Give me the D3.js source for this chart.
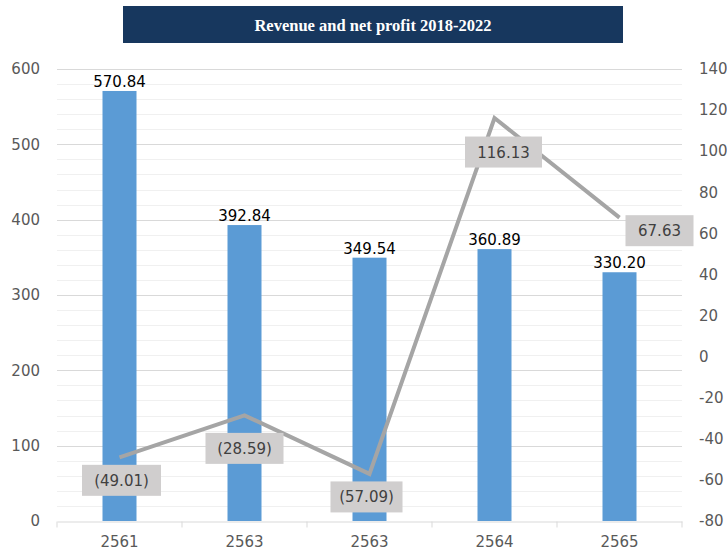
<!DOCTYPE html>
<html lang="en">
<head>
  <meta charset="UTF-8">
  <script src="https://cdn.jsdelivr.net/npm/d3@7"></script>
  <title>Revenue and net profit</title>
  <style>
    body { margin: 0; background: #fff; }
  </style>
</head>
<body>
  <svg width="727" height="551"></svg>
  <script>
    // data
    var categories = ["2561", "2563", "2563", "2564", "2565"];
    var revenue = [570.84, 392.84, 349.54, 360.89, 330.20];
    var profit = [-49.01, -28.59, -57.09, 116.13, 67.63];
    var leftTicks = [0, 100, 200, 300, 400, 500, 600];
    var rightTicks = [-80, -60, -40, -20, 0, 20, 40, 60, 80, 100, 120, 140];

    var svg = d3.select("svg");
    var plot = {left: 57, right: 682, top: 69, bottom: 521};
    var font = "'DejaVu Sans', Verdana, sans-serif";

    // title bar
    svg.append("rect").attr("x", 123).attr("y", 6).attr("width", 500).attr("height", 37)
      .attr("fill", "#17375e");
    svg.append("text").attr("x", 373).attr("y", 31).attr("text-anchor", "middle")
      .attr("fill", "#fff").attr("font-family", "'Liberation Serif', 'Times New Roman', serif")
      .attr("font-weight", "bold").attr("font-size", 16.5)
      .text("Revenue and net profit 2018-2022");

    // scales
    var x = d3.scaleBand().domain(d3.range(categories.length)).range([plot.left, plot.right]);
    var yL = d3.scaleLinear().domain([0, 600]).range([plot.bottom, plot.top]);
    var yR = d3.scaleLinear().domain([-80, 140]).range([plot.bottom, plot.top]);

    // gridlines (minor every 20, major every 100)
    svg.append("g").selectAll("line").data(d3.range(20, 601, 20)).enter().append("line")
      .attr("x1", plot.left).attr("x2", plot.right)
      .attr("y1", function(d){ return Math.round(yL(d)) + 0.5 })
      .attr("y2", function(d){ return Math.round(yL(d)) + 0.5 })
      .attr("stroke", function(d){ return d % 100 === 0 ? "#d9d9d9" : "#f0f0f0" })
      .attr("stroke-width", 1);

    // bottom axis
    var xAxis = d3.axisBottom(x).tickSize(0).tickPadding(15)
      .tickFormat(function(i){ return categories[i] });
    var ax = svg.append("g").attr("transform", "translate(0," + (plot.bottom + 0.5) + ")").call(xAxis);
    ax.select(".domain").attr("stroke", "#d9d9d9");
    ax.selectAll("text").attr("font-family", font).attr("font-size", 15).attr("fill", "#595959");
    ax.selectAll(".bnd").data(d3.range(categories.length + 1)).enter().append("line")
      .attr("x1", function(i){ return plot.left + i * x.step() })
      .attr("x2", function(i){ return plot.left + i * x.step() })
      .attr("y1", 0).attr("y2", 6).attr("stroke", "#d9d9d9");

    // left axis
    var lAxis = d3.axisLeft(yL).tickValues(leftTicks).tickSize(0).tickPadding(17);
    var al = svg.append("g").attr("transform", "translate(" + plot.left + ",0)").call(lAxis);
    al.select(".domain").remove();
    al.selectAll("text").attr("font-family", font).attr("font-size", 15).attr("fill", "#595959");

    // right axis
    var rAxis = d3.axisRight(yR).tickValues(rightTicks).tickSize(0).tickPadding(17)
      .tickFormat(function(d){ return String(d) });
    var ar = svg.append("g").attr("transform", "translate(" + plot.right + ",0)").call(rAxis);
    ar.select(".domain").remove();
    ar.selectAll("text").attr("font-family", font).attr("font-size", 15).attr("fill", "#595959");

    // bars
    var barW = 34;
    svg.selectAll(".bar").data(revenue).enter().append("rect")
      .attr("x", function(d, i){ return x(i) + x.bandwidth() / 2 - barW / 2 })
      .attr("y", function(d){ return yL(d) })
      .attr("width", barW)
      .attr("height", function(d){ return yL(0) - yL(d) })
      .attr("fill", "#5b9bd5");
    svg.selectAll(".barlab").data(revenue).enter().append("text")
      .attr("x", function(d, i){ return x(i) + x.bandwidth() / 2 })
      .attr("y", function(d){ return yL(d) - 4 })
      .attr("text-anchor", "middle").attr("font-family", font).attr("font-size", 15).attr("fill", "#000")
      .text(function(d){ return d.toFixed(2) });

    // profit line
    var line = d3.line()
      .x(function(d, i){ return x(i) + x.bandwidth() / 2 })
      .y(function(d){ return yR(d) });
    svg.append("path").datum(profit).attr("d", line)
      .attr("fill", "none").attr("stroke", "#a5a5a5").attr("stroke-width", 4);

    // profit labels: offsets from point
    var offs = [[2, 23], [0, 33], [-3, 23], [9, 34], [40, 13]];
    var boxW = [79, 78, 72, 77, 68];
    var lab = svg.selectAll(".plab").data(profit).enter().append("g")
      .attr("transform", function(d, i){
        return "translate(" + (x(i) + x.bandwidth() / 2 + offs[i][0]) + "," + (yR(d) + offs[i][1]) + ")";
      });
    lab.append("rect")
      .attr("x", function(d, i){ return -boxW[i] / 2 }).attr("y", -15.5)
      .attr("width", function(d, i){ return boxW[i] }).attr("height", 31)
      .attr("fill", "#d0cece");
    lab.append("text").attr("y", 5.5).attr("text-anchor", "middle")
      .attr("font-family", font).attr("font-size", 15).attr("fill", "#404040")
      .text(function(d){ return d < 0 ? "(" + (-d).toFixed(2) + ")" : d.toFixed(2) });
  </script>
</body>
</html>
